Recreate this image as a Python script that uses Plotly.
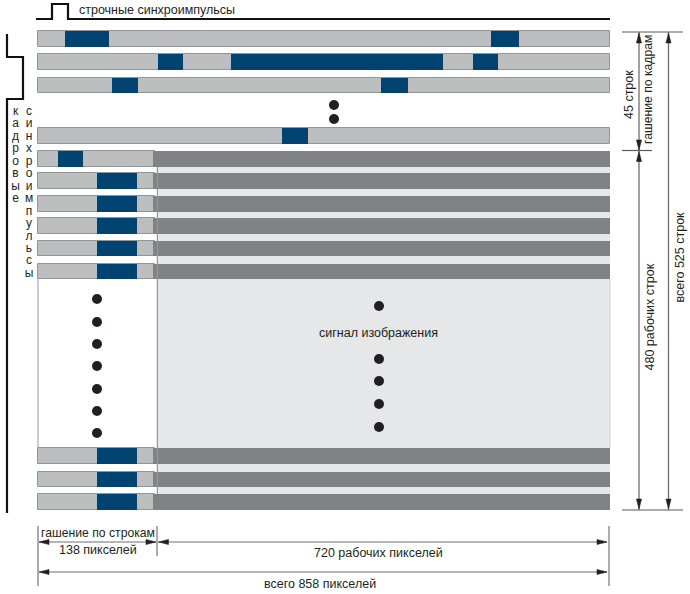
import plotly.graph_objects as go

# --- data (diagram units = reference pixels) ---
X_LEFT, X_BLANK_END, X_EDGE, X_RIGHT = 38, 153, 157.5, 610
row_tops =    [31, 54, 78, 128, 151, 173, 196, 218, 241, 264, 448, 472, 494]
row_bottoms = [46.5, 70, 92.5, 144, 167, 189, 211.5, 234, 256, 279, 464, 487, 510]
# sync pulses per row
pulses = [
    [(65, 109), (491, 519)],
    [(158, 183), (231, 443), (473, 498)],
    [(112, 138), (381, 408)],
    [(282, 308)],
    [(57.5, 82.5)],
    [(97, 137)], [(97, 137)], [(97, 137)], [(97, 137)], [(97, 137)],
    [(97, 137)], [(97, 137)], [(97, 137)],
]
active_rows = [False, False, False, False, True, True, True, True, True, True, True, True, True]
dots_top_x, dots_top_y = [334, 334], [105, 119]
dots_left_x, dots_left_y = [97] * 7, [299, 322, 344, 366, 389, 411, 433]
dots_mid_x, dots_mid_y = [379] * 5, [306, 359, 381, 404, 427]
line_sync_x = [36, 52, 52, 68, 68, 610]
line_sync_y = [19, 19, 4, 4, 19, 19]
frame_sync_x = [7, 7, 23, 23, 7, 7]
frame_sync_y = [34, 57, 57, 99, 99, 513]
col1_letters = list("кадровые")
col2_letters = list("синхроимпульсы")
LETTER_Y0, LETTER_STEP = 112, 12.45

GREY = "#bcbec0"; GREY_EDGE = "#939598"; BLUE = "#004270"; DARK = "#808285"; PALE = "#e6e7e8"
INK = "#231f20"; FS = 12.5; FONT = "Liberation Sans"

fig = go.Figure()

def bars(seg, color, line=None):
    # seg: list of (x0, x1, y0, y1)
    fig.add_trace(go.Bar(orientation="h",
        base=[s[0] for s in seg], x=[s[1] - s[0] for s in seg],
        y=[(s[2] + s[3]) / 2 for s in seg], width=[s[3] - s[2] for s in seg],
        marker=dict(color=color, line=dict(color=line or color, width=1 if line else 0)),
        hoverinfo="skip", showlegend=False))

def poly(x, y, color=INK, width=1.0):
    fig.add_trace(go.Scatter(x=x, y=y, mode="lines", line=dict(color=color, width=width),
                             hoverinfo="skip", showlegend=False))

def arrow(tx, ty, dx, dy):
    # slim arrowhead with the tip at (tx, ty), pointing along (dx, dy)
    L, W = 10, 2.6
    bx, by = tx - dx * L, ty - dy * L
    fig.add_trace(go.Scatter(x=[tx, bx - dy * W, bx + dy * W, tx],
                             y=[ty, by - dx * W, by + dx * W, ty],
                             mode="lines", fill="toself", fillcolor=INK, line=dict(color=INK, width=0.5),
                             hoverinfo="skip", showlegend=False))

def label(x, y, text, angle=0, anchor="center", size=FS):
    fig.add_annotation(x=x, y=y, text=text, showarrow=False, textangle=angle, xanchor=anchor,
                       yanchor="middle", borderpad=0, font=dict(family=FONT, size=size, color=INK))

# picture field and blank area
bars([(X_EDGE + 1.5, X_RIGHT, 167, 510)], PALE)
poly([X_LEFT, X_LEFT], [279, 448], "#a7a9ac", 1.2)
poly([X_EDGE, X_EDGE], [167, 494], "#939598", 1.4)
poly([X_RIGHT, X_RIGHT], [279, 448], "#d1d3d4", 1)

# rows
grey_seg, dark_seg, blue_seg = [], [], []
for top, bot, act, ps in zip(row_tops, row_bottoms, active_rows, pulses):
    grey_seg.append((X_LEFT, X_BLANK_END + 2 if act else X_RIGHT, top, bot))
    if act:
        dark_seg.append((X_BLANK_END, X_RIGHT, top, bot))
    for a, b in ps:
        blue_seg.append((a, b, top, bot))
bars(grey_seg, GREY, GREY_EDGE)
bars(dark_seg, DARK)
bars(blue_seg, BLUE)

# dots
fig.add_trace(go.Scatter(x=dots_top_x + dots_left_x + dots_mid_x, y=dots_top_y + dots_left_y + dots_mid_y,
                         mode="markers", marker=dict(color=INK, size=10), hoverinfo="skip", showlegend=False))

# sync traces
poly(line_sync_x, line_sync_y, "#111111", 2.2)
poly(frame_sync_x, frame_sync_y, "#111111", 2.2)

# right dimensions
poly([622, 683], [32, 32], "#58595b", 1.2)
poly([622, 652], [150.5, 150.5], "#58595b", 1.2)
poly([622, 683], [510, 510], "#58595b", 1.2)
poly([639, 639], [32, 510], "#6d6e71", 1.3)
poly([668.5, 668.5], [32, 510], "#6d6e71", 1.3)
arrow(639, 33, 0, -1); arrow(639, 150, 0, 1); arrow(639, 151.5, 0, -1); arrow(639, 509, 0, 1)
arrow(668.5, 33, 0, -1); arrow(668.5, 509, 0, 1)

# bottom dimensions
poly([38, 38], [526, 586], "#58595b", 1)
poly([157, 157], [526, 556], "#58595b", 1)
poly([609, 609], [526, 586], "#58595b", 1)
poly([39, 156], [542, 542], "#6d6e71", 1.2)
poly([158, 607], [542, 542], "#6d6e71", 1.2)
poly([39, 607], [572, 572], "#6d6e71", 1.2)
arrow(39, 542, -1, 0); arrow(156, 542, 1, 0); arrow(158.5, 542, -1, 0); arrow(607, 542, 1, 0)
arrow(39, 572, -1, 0); arrow(607, 572, 1, 0)

# text
label(78, 10, "строчные синхроимпульсы", anchor="left")
label(378, 333, "сигнал изображения")
label(97.5, 533, "гашение по строкам", size=12.2)
label(98, 550, "138 пикселей")
label(378, 553, "720 рабочих пикселей")
label(320, 584, "всего 858 пикселей")
label(629, 95, "45 строк", -90)
label(648, 90, "гашение по кадрам", -90, size=12.2)
label(649, 317.5, "480 рабочих строк", -90)
label(679.5, 257, "всего 525 строк", -90)

# vertical words, one letter per line
def letters(x, chars):
    fig.add_trace(go.Scatter(x=[x] * len(chars), y=[LETTER_Y0 + i * LETTER_STEP for i in range(len(chars))],
                             mode="text", text=chars, textposition="middle center",
                             textfont=dict(family=FONT, size=12, color=INK), hoverinfo="skip", showlegend=False))
letters(15.5, col1_letters)
letters(29, col2_letters)

fig.update_layout(width=690, height=594, margin=dict(l=0, r=0, t=0, b=0), paper_bgcolor="white",
                  plot_bgcolor="white", barmode="overlay", bargap=0, showlegend=False,
                  xaxis=dict(range=[0, 690], visible=False, fixedrange=True),
                  yaxis=dict(range=[594, 0], visible=False, fixedrange=True))
fig.write_html("out.html", config=dict(displayModeBar=False),
               post_script="document.body.style.margin='0';document.documentElement.style.overflow='hidden';")
